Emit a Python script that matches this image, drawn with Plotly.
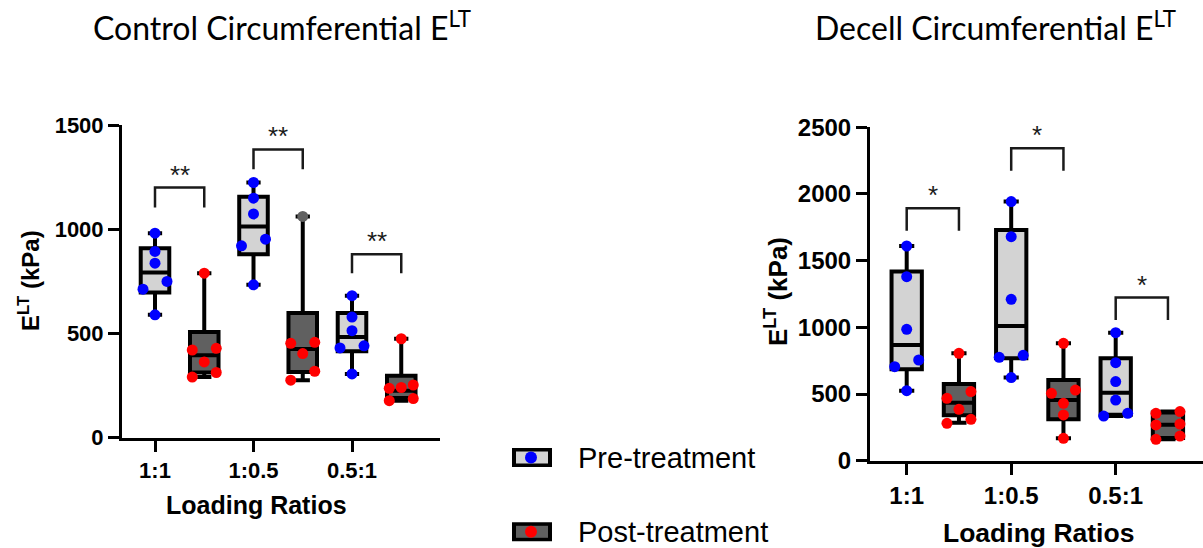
import plotly.graph_objects as go

# ---------------- data ----------------
CATEGORIES = ["1:1", "1:0.5", "0.5:1"]
Y_TICKS_CTRL = [0, 500, 1000, 1500]
Y_TICKS_DEC = [0, 500, 1000, 1500, 2000, 2500]
SERIES = ["Pre-treatment", "Post-treatment"]

# Control – individual samples (kPa)
CTRL_PRE_PTS = [[589, 712, 749, 837, 893, 981],
                [733, 920, 952, 1073, 1149, 1224],
                [305, 430, 440, 513, 578, 681]]
CTRL_POST_PTS = [[290, 312, 363, 420, 428, 789],
                 [275, 318, 403, 452, 457, 1061],
                 [177, 187, 236, 240, 252, 474]]
# Control – box statistics
CTRL_PRE_Q1 = [696, 880, 414]
CTRL_PRE_MED = [792, 1013, 483]
CTRL_PRE_Q3 = [909, 1156, 598]
CTRL_PRE_MIN = [589, 733, 305]
CTRL_PRE_MAX = [981, 1224, 681]
CTRL_POST_Q1 = [312, 315, 190]
CTRL_POST_MED = [395, 425, 225]
CTRL_POST_Q3 = [507, 598, 297]
CTRL_POST_MIN = [290, 275, 177]
CTRL_POST_MAX = [789, 1061, 474]
# Control – significance brackets
CTRL_SIG = ["**", "**", "**"]
CTRL_BRACKET_TOP = [1200, 1383, 880]
CTRL_BRACKET_LEG = [1104, 1288, 789]

# Decell – individual samples (kPa)
DEC_PRE_PTS = [[525, 705, 755, 985, 1380, 1610],
               [623, 775, 790, 1210, 1680, 1943],
               [335, 355, 455, 593, 735, 960]]
DEC_POST_PTS = [[280, 310, 385, 468, 518, 805],
                [168, 343, 430, 505, 530, 880],
                [160, 185, 268, 275, 355, 368]]
# Decell – box statistics
DEC_PRE_Q1 = [685, 768, 345]
DEC_PRE_MED = [868, 1010, 510]
DEC_PRE_Q3 = [1418, 1730, 768]
DEC_PRE_MIN = [525, 623, 335]
DEC_PRE_MAX = [1610, 1943, 960]
DEC_POST_Q1 = [340, 310, 170]
DEC_POST_MED = [435, 455, 270]
DEC_POST_Q3 = [575, 605, 362]
DEC_POST_MIN = [285, 168, 160]
DEC_POST_MAX = [805, 880, 368]
# Decell – significance brackets
DEC_SIG = ["*", "*", "*"]
DEC_BRACKET_TOP = [1893, 2343, 1223]
DEC_BRACKET_LEG = [1725, 2175, 1055]

# ---------------- style ----------------
W, H = 1203, 548
PRE_FILL, POST_FILL = "#d3d3d3", "#606060"
PRE_DOT, POST_DOT = "#0000ff", "#ff0000"
OUTLIER_GRAY = "#606060"
POST_OFFSET = 0.5
BOX_W = 0.29
LABEL_FONT = "Liberation Sans"
TITLE_FONT = "Lato"

# panel geometry in pixels
PANELS = {
    "ctrl": dict(x0=122, x1=440, ybot=437.5, ytop=125, c0=155, step=98.5, ymax=1500,
                 tick=22, ttl=24, xttl=25, xttl_pos=(256.7, 505), yttl_pos=(29, 281), title_pos=(282, 26)),
    "dec": dict(x0=870, x1=1203, ybot=460.7, ytop=127.3, c0=906.7, step=104.5, ymax=2500,
                tick=24, ttl=26, xttl=26.5, xttl_pos=(1038, 533), yttl_pos=(776, 292), title_pos=(996, 26)),
}


def px_x(px):
    return px / W


def px_y(py):
    return 1 - py / H


def dodge(vals, ppu_y, ppu_x, thresh=9.5, step_px=12):
    order = sorted(range(len(vals)), key=lambda i: vals[i])
    clusters, cur = [], [order[0]]
    for i in order[1:]:
        if (vals[i] - vals[cur[-1]]) * ppu_y < thresh:
            cur.append(i)
        else:
            clusters.append(cur)
            cur = [i]
    clusters.append(cur)
    offs = [0.0] * len(vals)
    for c in clusters:
        n = len(c)
        if n > 1:
            for k, i in enumerate(c):
                offs[i] = (k - (n - 1) / 2) * (2 * step_px / (n - 1)) / ppu_x
    return offs


fig = go.Figure()
shapes, annotations = [], []


def paper_text(x, y, text, font, **kw):
    d = dict(x=px_x(x), y=px_y(y), xref="paper", yref="paper", text=text, showarrow=False,
             xanchor="center", yanchor="middle", font=font)
    d.update(kw)
    annotations.append(d)


def add_panel(key, xa, ya, pre, post, sig, btop, bleg, yticks, title):
    g = PANELS[key]
    ppu_x = g["step"]
    ppu_y = (g["ybot"] - g["ytop"]) / g["ymax"]
    xr = [(g["x0"] - g["c0"]) / g["step"], (g["x1"] - g["c0"]) / g["step"]]
    axis_x = "x" if xa == "xaxis" else "x" + xa[5:]
    axis_y = "y" if ya == "yaxis" else "y" + ya[5:]

    for stats, fill, dot, shift in [(pre, PRE_FILL, PRE_DOT, 0.0), (post, POST_FILL, POST_DOT, POST_OFFSET)]:
        pts, q1, med, q3, lo, hi = stats
        xs = [i + shift for i in range(len(CATEGORIES))]
        fig.add_trace(go.Box(
            x=xs, q1=q1, median=med, q3=q3, lowerfence=lo, upperfence=hi,
            orientation="v", width=BOX_W, whiskerwidth=0.5, boxpoints=False,
            fillcolor=fill, line=dict(color="black", width=4),
            xaxis=axis_x, yaxis=axis_y, showlegend=False, hoverinfo="skip"))
        px_list, py_list, cols = [], [], []
        for i, grp in enumerate(pts):
            offs = dodge(grp, ppu_y, ppu_x)
            for v, o in zip(grp, offs):
                px_list.append(xs[i] + o)
                py_list.append(v)
                # the highest control post-treatment 1:0.5 sample is drawn grey in the original
                cols.append(OUTLIER_GRAY if (key == "ctrl" and shift and i == 1 and v == max(grp)) else dot)
        fig.add_trace(go.Scatter(
            x=px_list, y=py_list, mode="markers",
            marker=dict(size=11, color=cols, line=dict(width=0)),
            xaxis=axis_x, yaxis=axis_y, showlegend=False, hoverinfo="skip", cliponaxis=False))

    for i, s in enumerate(sig):
        x0, x1 = i, i + POST_OFFSET
        shapes.append(dict(type="path", xref=axis_x, yref=axis_y,
                           path=f"M {x0} {bleg[i]} L {x0} {btop[i]} L {x1} {btop[i]} L {x1} {bleg[i]}",
                           line=dict(color="#1a1a1a", width=2.5)))
        annotations.append(dict(x=(x0 + x1) / 2, y=btop[i], xref=axis_x, yref=axis_y, text=s,
                                showarrow=False, xanchor="center", yanchor="bottom", yshift=-4,
                                font=dict(family=LABEL_FONT, size=26, color="#1a1a1a")))

    common = dict(showgrid=False, zeroline=False, showline=True, linecolor="black", linewidth=3,
                  ticks="outside", ticklen=11, tickwidth=3, tickcolor="black", automargin=False,
                  tickfont=dict(family=LABEL_FONT, size=g["tick"], color="black", weight="bold"))
    fig.update_layout(**{
        xa: dict(domain=[px_x(g["x0"]), px_x(g["x1"])], range=xr, anchor=axis_y,
                 tickvals=list(range(len(CATEGORIES))), ticktext=CATEGORIES, **common),
        ya: dict(domain=[px_y(g["ybot"]), px_y(g["ytop"])], range=[0, g["ymax"]], anchor=axis_x,
                 tickvals=yticks, **common),
    })

    paper_text(*g["xttl_pos"], "<b>Loading Ratios</b>",
               dict(family=LABEL_FONT, size=g["xttl"], color="black"))
    paper_text(*g["yttl_pos"], "<b>E<sup>LT</sup> (kPa)</b>",
               dict(family=LABEL_FONT, size=g["ttl"], color="black"), textangle=-90)
    paper_text(*g["title_pos"], title, dict(family=TITLE_FONT, size=32, color="black"))


add_panel("ctrl", "xaxis", "yaxis",
          (CTRL_PRE_PTS, CTRL_PRE_Q1, CTRL_PRE_MED, CTRL_PRE_Q3, CTRL_PRE_MIN, CTRL_PRE_MAX),
          (CTRL_POST_PTS, CTRL_POST_Q1, CTRL_POST_MED, CTRL_POST_Q3, CTRL_POST_MIN, CTRL_POST_MAX),
          CTRL_SIG, CTRL_BRACKET_TOP, CTRL_BRACKET_LEG, Y_TICKS_CTRL,
          "Control Circumferential E<sup>LT</sup>")
add_panel("dec", "xaxis2", "yaxis2",
          (DEC_PRE_PTS, DEC_PRE_Q1, DEC_PRE_MED, DEC_PRE_Q3, DEC_PRE_MIN, DEC_PRE_MAX),
          (DEC_POST_PTS, DEC_POST_Q1, DEC_POST_MED, DEC_POST_Q3, DEC_POST_MIN, DEC_POST_MAX),
          DEC_SIG, DEC_BRACKET_TOP, DEC_BRACKET_LEG, Y_TICKS_DEC,
          "Decell Circumferential E<sup>LT</sup>")

# ---------------- manual legend ----------------
for name, fill, dot, cy in [(SERIES[0], PRE_FILL, PRE_DOT, 457.5), (SERIES[1], POST_FILL, POST_DOT, 531.8)]:
    shapes.append(dict(type="rect", xref="paper", yref="paper", x0=px_x(512), x1=px_x(552),
                       y0=px_y(cy + 9.5), y1=px_y(cy - 9.5), fillcolor="black", line=dict(width=0)))
    shapes.append(dict(type="rect", xref="paper", yref="paper", x0=px_x(516), x1=px_x(548),
                       y0=px_y(cy + 6), y1=px_y(cy - 6), fillcolor=fill, line=dict(width=0)))
    shapes.append(dict(type="circle", xref="paper", yref="paper", x0=px_x(525), x1=px_x(537),
                       y0=px_y(cy + 6), y1=px_y(cy - 6), fillcolor=dot, line=dict(width=0)))
    paper_text(576, cy, name, dict(family=LABEL_FONT, size=29, color="black"), xanchor="left")

fig.update_layout(width=W, height=H, margin=dict(l=0, r=0, t=0, b=0, pad=0, autoexpand=False),
                  paper_bgcolor="white", plot_bgcolor="white", showlegend=False,
                  shapes=shapes, annotations=annotations)

fig.write_html("out.html")
